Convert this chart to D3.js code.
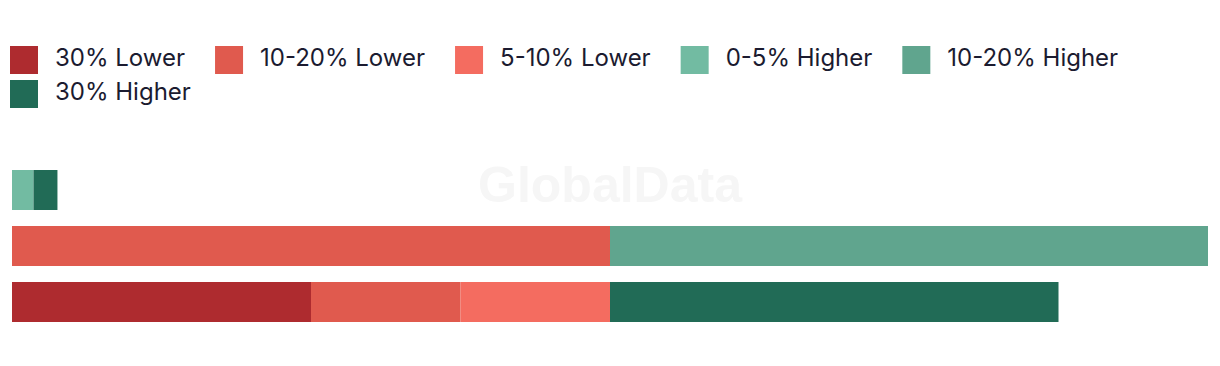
<!DOCTYPE html>
<html>
<head>
<meta charset="utf-8">
<script src="https://cdn.jsdelivr.net/npm/d3@7"></script>
<style>
  body { margin: 0; background: #fff; }
  svg { display: block; }
</style>
</head>
<body>
<svg id="chart"></svg>
<script>
// categories (legend order) and colours
const categories = ["30% Lower", "10-20% Lower", "5-10% Lower", "0-5% Higher", "10-20% Higher", "30% Higher"];
const colors = ["#ae2b2f", "#e05a4e", "#f46c60", "#72bba2", "#60a58e", "#216b56"];

// one value per category for each bar (top to bottom)
const rows = ["A", "B", "C"];
const lower30 = [0, 0, 25];
const lower1020 = [0, 50, 12.5];
const lower510 = [0, 0, 12.5];
const higher05 = [1.8, 0, 0];
const higher1020 = [0, 50, 0];
const higher30 = [2, 0, 37.5];

const width = 1220, height = 366;
const svg = d3.select("#chart").attr("width", width).attr("height", height);

let data = rows.map((r, i) => ({
  row: r,
  "30% Lower": lower30[i],
  "10-20% Lower": lower1020[i],
  "5-10% Lower": lower510[i],
  "0-5% Higher": higher05[i],
  "10-20% Higher": higher1020[i],
  "30% Higher": higher30[i]
}));

let x = d3.scaleLinear().domain([0, 100]).range([12, 1208]);
let y = d3.scaleBand().domain(rows).range([162, 330]).paddingInner(16 / 56).paddingOuter(8 / 56);
let color = d3.scaleOrdinal(categories, colors);

// watermark
svg.append("text")
  .attr("x", 610).attr("y", 202)
  .attr("text-anchor", "middle")
  .attr("font-family", "Liberation Sans, Arial, sans-serif")
  .attr("font-weight", "bold")
  .attr("font-size", 50)
  .attr("fill", "#f6f6f6")
  .text("GlobalData");

let series = d3.stack().keys(categories)(data);

svg.append("g").selectAll("g")
  .data(series)
  .join("g")
    .attr("fill", d => color(d.key))
  .selectAll("rect")
  .data(d => d)
  .join("rect")
    .attr("x", d => x(d[0]))
    .attr("y", d => y(d.data.row))
    .attr("width", d => x(d[1]) - x(d[0]))
    .attr("height", y.bandwidth());

// legend, wraps like html flow
let legend = svg.append("g");
let lx = 10, ly = 46;
categories.forEach(c => {
  let item = legend.append("g");
  item.append("rect").attr("width", 28).attr("height", 28).attr("fill", color(c));
  let t = item.append("text")
    .attr("x", 45).attr("y", 20)
    .attr("font-family", "Inter, sans-serif")
    .attr("font-size", 24)
    .attr("fill", "#1b1b30")
    .text(c);
  let w = 45 + t.node().getComputedTextLength() + 30;
  if (lx + w > 1200) { lx = 10; ly += 34; }
  item.attr("transform", "translate(" + lx + "," + ly + ")");
  lx += w;
});
</script>
</body>
</html>
